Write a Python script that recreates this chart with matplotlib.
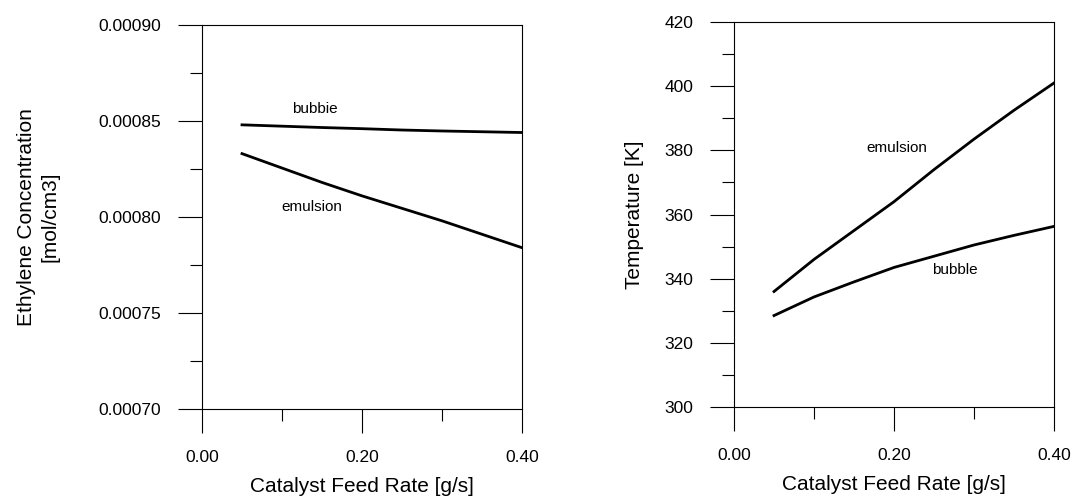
import matplotlib.pyplot as plt
from matplotlib.ticker import MultipleLocator, FormatStrFormatter

plt.rcParams['font.family'] = ['Liberation Sans', 'DejaVu Sans']

# Catalyst feed rate [g/s]
feed_rate = [0.05, 0.10, 0.15, 0.20, 0.25, 0.30, 0.35, 0.40]

# Ethylene concentration [mol/cm3]
conc_bubble = [0.000848, 0.0008473, 0.0008466, 0.000846, 0.0008453, 0.0008448, 0.0008444, 0.000844]
conc_emulsion = [0.000833, 0.0008255, 0.000818, 0.000811, 0.0008045, 0.000798, 0.000791, 0.000784]

# Temperature [K]
temp_emulsion = [336.0, 346.0, 355.0, 364.0, 374.0, 383.5, 392.5, 401.0]
temp_bubble = [328.5, 334.3, 339.0, 343.5, 347.0, 350.5, 353.5, 356.3]

fig = plt.figure(figsize=(10.75, 4.97), dpi=100)
ax1 = fig.add_axes([0.1879, 0.1771, 0.2977, 0.7726])
ax2 = fig.add_axes([0.6828, 0.1811, 0.2977, 0.7746])

for ax in (ax1, ax2):
    ax.set_xlim(0.0, 0.40)
    ax.xaxis.set_major_locator(MultipleLocator(0.2))
    ax.xaxis.set_minor_locator(MultipleLocator(0.1))
    ax.xaxis.set_major_formatter(FormatStrFormatter('%.2f'))
    ax.tick_params(which='major', direction='out', length=17.3, width=0.8,
                   labelsize=12.5, pad=12)
    ax.tick_params(which='minor', direction='out', length=8.6, width=0.8)
    for s in ax.spines.values():
        s.set_linewidth(0.8)
    ax.set_xlabel('Catalyst Feed Rate [g/s]', fontsize=15, labelpad=9)

# left panel: concentration
ax1.plot(feed_rate, conc_bubble, color='black', lw=2)
ax1.plot(feed_rate, conc_emulsion, color='black', lw=2)
ax1.set_ylim(0.00070, 0.00090)
ax1.yaxis.set_major_locator(MultipleLocator(0.00005))
ax1.yaxis.set_minor_locator(MultipleLocator(0.000025))
ax1.yaxis.set_major_formatter(FormatStrFormatter('%.5f'))
ax1.set_ylabel('Ethylene Concentration\n[mol/cm3]', fontsize=15, labelpad=28,
               linespacing=1.3)
ax1.text(0.141, 0.000856, 'bubbie', fontsize=11, ha='center', va='center')
ax1.text(0.1375, 0.000805, 'emulsion', fontsize=11, ha='center', va='center')

# right panel: temperature
ax2.plot(feed_rate, temp_emulsion, color='black', lw=2)
ax2.plot(feed_rate, temp_bubble, color='black', lw=2)
ax2.set_ylim(300, 420)
ax2.yaxis.set_major_locator(MultipleLocator(20))
ax2.yaxis.set_minor_locator(MultipleLocator(10))
ax2.set_ylabel('Temperature [K]', fontsize=15, labelpad=15)
ax2.text(0.204, 380.7, 'emulsion', fontsize=11, ha='center', va='center')
ax2.text(0.276, 342.7, 'bubble', fontsize=11, ha='center', va='center')

fig.savefig('out.png', dpi=100)
